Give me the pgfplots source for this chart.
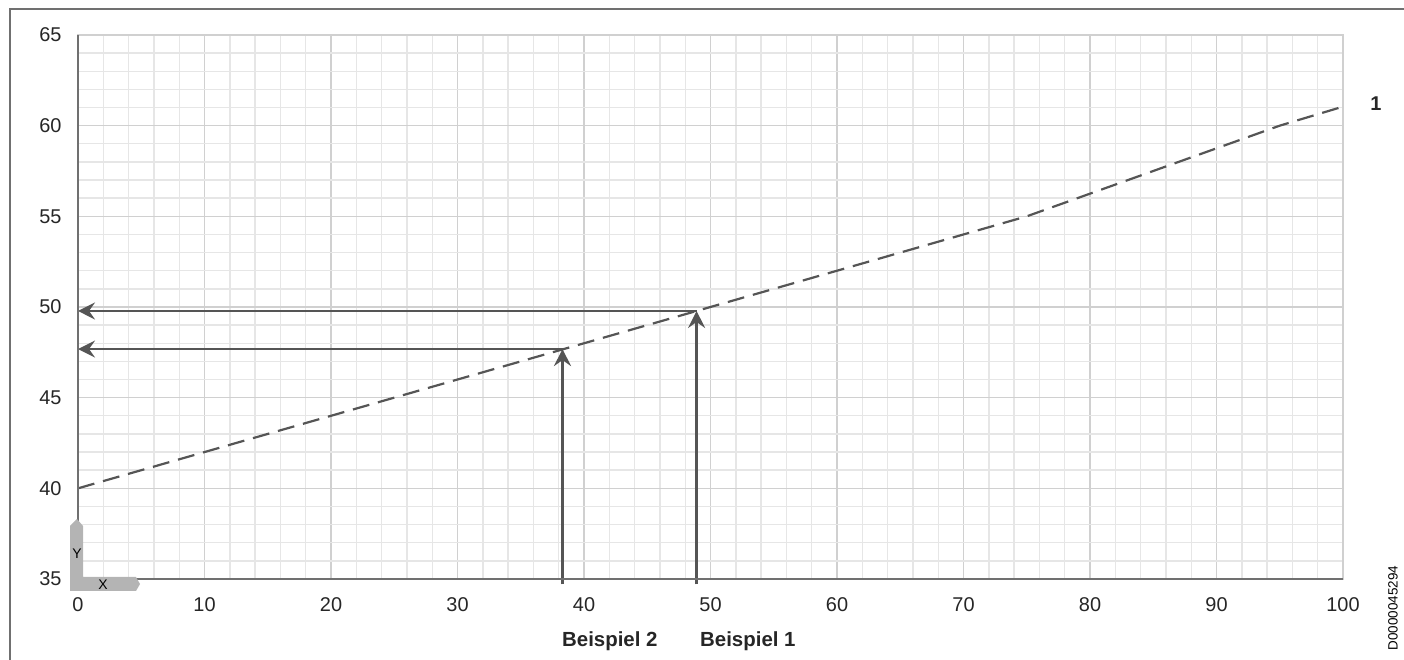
\documentclass[border=0pt]{standalone}
\usepackage{fontspec}
\setmainfont{Liberation Sans}
\usepackage{pgfplots}
\pgfplotsset{compat=1.18}
\usetikzlibrary{arrows.meta}
\definecolor{linegray}{HTML}{555555}
\definecolor{majgrid}{HTML}{D0D0D0}
\definecolor{mingrid}{HTML}{E6E6E6}
\definecolor{axgray}{HTML}{707070}
\definecolor{badge}{HTML}{B4B4B4}
\begin{document}
\begin{tikzpicture}[x=1bp,y=1bp]
\begin{axis}[
  at={(78bp,81bp)}, anchor=south west,
  scale only axis, width=1265bp, height=544bp,
  xmin=0, xmax=100, ymin=35, ymax=65,
  xtick={0,10,...,100}, ytick={35,40,...,65},
  minor x tick num=4, minor y tick num=4,
  grid=both,
  major grid style={draw=majgrid, line width=1.4bp},
  minor grid style={draw=mingrid, line width=1.4bp},
  axis line style={draw=majgrid, line width=1.4bp},
  major tick length=0pt, minor tick length=0pt,
  tick label style={font=\fontsize{20}{22}\selectfont, text=black!85},
  /pgf/number format/assume math mode=true,
  xticklabel style={yshift=-15bp},
  yticklabel style={xshift=-13bp},
  clip=false,
]
\addplot[draw=linegray, line width=2.2bp, dash pattern=on 17bp off 9bp]
  coordinates {(0,40) (50,50) (75,55) (95,60) (100,61.05)};
% arrows
\addplot[draw=linegray, line width=2.6bp, -{Stealth[length=17bp,width=17bp,inset=6bp]}]
  coordinates {(48.9,34.7) (48.9,49.78)};
\addplot[draw=linegray, line width=2.6bp, -{Stealth[length=17bp,width=17bp,inset=6bp]}]
  coordinates {(48.9,49.78) (0,49.78)};
\addplot[draw=linegray, line width=2.6bp, -{Stealth[length=17bp,width=17bp,inset=6bp]}]
  coordinates {(38.3,34.7) (38.3,47.68)};
\addplot[draw=linegray, line width=2.6bp, -{Stealth[length=17bp,width=17bp,inset=6bp]}]
  coordinates {(38.3,47.68) (0,47.68)};
% darker left and bottom axis lines
\draw[axgray, line width=1.6bp] (axis cs:0,65) -- (axis cs:0,35) -- (axis cs:100,35);
\end{axis}
% badge
\fill[badge] (70,69) -- (70,134) -- (77,141) -- (83,134) -- (83,83) -- (136,83) -- (140,76) -- (136,69) -- cycle;
\node[font=\fontsize{14}{15}\selectfont] at (77,106) {Y};
\node[font=\fontsize{14}{15}\selectfont] at (103,75) {X};
% labels
\node[font=\fontsize{20.5}{22}\selectfont\bfseries, text=black!85, anchor=west, inner sep=0pt] at (562,19) {Beispiel 2};
\node[font=\fontsize{20.5}{22}\selectfont\bfseries, text=black!85, anchor=west, inner sep=0pt] at (700,19) {Beispiel 1};
\node[font=\fontsize{20}{22}\selectfont\bfseries, text=black!85] at (1376,556) {1};
\node[font=\fontsize{13.5}{15}\selectfont, rotate=90] at (1393,52) {D0000045294};
% frame
\draw[axgray, line width=2bp] (10,0) -- (10,651) -- (1404,651);
\pgfresetboundingbox
\path (0,0) rectangle (1404,660);
\end{tikzpicture}
\end{document}
